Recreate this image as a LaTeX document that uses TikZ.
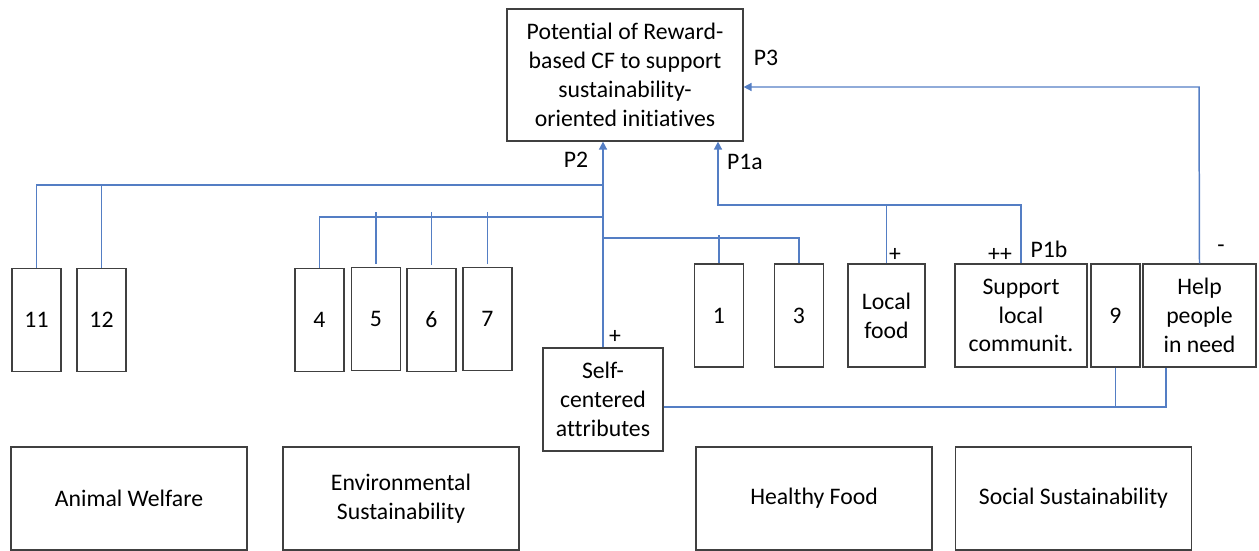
\documentclass[tikz,border=0pt]{standalone}
\usepackage{fontspec}
\setmainfont[Ligatures=NoCommon]{Carlito}
\usetikzlibrary{arrows.meta,calc}
\definecolor{linkblue}{RGB}{84,126,196}

\begin{document}
\begin{tikzpicture}[x=0.02cm, y=-0.02cm,
  font=\fontsize{13.5}{16.4}\selectfont,
  box/.style={draw=black!75, line width=0.7pt, align=center, inner sep=0pt},
  numbox/.style={box, minimum width=0.98cm, minimum height=2.07cm},
  catbox/.style={box, minimum width=4.72cm, minimum height=2.06cm},
  link/.style={draw=linkblue, line width=0.85pt},
  arr/.style={link, -{Triangle[width=4.5pt,length=4.5pt]}}]
  \useasboundingbox (0,0) rectangle (1259,551);

  % Goal
  \node[box, minimum width=4.72cm, minimum height=2.64cm] (goal) at (625,75)
    {Potential of Reward-\\based CF to support\\sustainability-\\oriented initiatives};

  % Attribute boxes
  \node[numbox] (b11) at (36.5,320) {11};
  \node[numbox] (b12) at (101.5,320) {12};
  \node[numbox] (b4) at (319.5,320) {4};
  \node[numbox] (b5) at (376,319) {5};
  \node[numbox] (b6) at (431.5,320) {6};
  \node[numbox] (b7) at (487.5,319) {7};
  \node[numbox, minimum height=2.06cm] (b1) at (719,315.5) {1};
  \node[numbox, minimum height=2.06cm] (b3) at (799,315.5) {3};
  \node[box, minimum width=1.54cm, minimum height=2.06cm] (local) at (886.5,315.5)
    {Local\\food};
  \node[box, minimum width=2.64cm, minimum height=2.06cm] (support) at (1021,315.5)
    {Support\\local\\communit.};
  \node[numbox, minimum height=2.06cm] (b9) at (1115.5,315.5) {9};
  \node[box, minimum width=2.26cm, minimum height=2.06cm] (help) at (1199.5,315.5)
    {Help\\people\\in need};
  \node[box, minimum width=2.4cm, minimum height=2.06cm] (self) at (603,399.5)
    {Self-\\centered\\attributes};

  % Categories
  \node[catbox] (animal) at (129,498.5) {Animal Welfare};
  \node[catbox] (envsus) at (401,498.5) {Environmental\\Sustainability};
  \node[catbox] (healthy) at (814,498.5) {Healthy Food};
  \node[catbox] (social) at (1073.5,498.5) {Social Sustainability};

  % Junctions
  \coordinate (awj) at (602,185);
  \coordinate (esj) at (602,217);
  \coordinate (hfj) at (602,238);
  \coordinate (p1aj) at (718,205);
  \coordinate (p3j) at (1199,87);
  \coordinate (scj) at (1166,407);

  % P2
  \draw[arr] (self.north) -- (self.north |- goal.south);
  \draw[link] (b11.north) |- (awj);
  \draw[link] (b12.north) -- (b12.north |- awj);
  \draw[link] (b4.north) |- (esj);
  \foreach \b in {b5,b6,b7}
    \draw[link] ([yshift=1.5pt]\b.north) -- ($(\b.north |- esj)+(0,-5)$);
  \draw[link] (hfj) -| (b3.north);
  \draw[link] ($(b1.north |- hfj)+(0,-3)$) -- (b1.north);

  % P1a, P3
  \draw[arr] (support.north) |- (p1aj) -- (p1aj |- goal.south);
  \draw[link] (local.north) -- (local.north |- p1aj);
  \draw[arr] (help.north) -- (p3j) -- (p3j -| goal.east);

  % Self-centered link
  \draw[link] (self.east |- scj) -- (scj) -- (scj |- help.south);
  \draw[link] (b9.south) -- (b9.south |- scj);

  % Labels
  \node (p3) at (766,58) {P3};
  \node (p2) at (576,160) {P2};
  \node (p1a) at (745,162) {P1a};
  \node (p1b) at (1049,249) {P1b};
  \node (plusself) at (615,337) {+};
  \node (pluslocal) at (895,255) {+};
  \node (plusplus) at (1000,255) {++};
  \node (minus) at (1221,249) {-};
\end{tikzpicture}
\end{document}
